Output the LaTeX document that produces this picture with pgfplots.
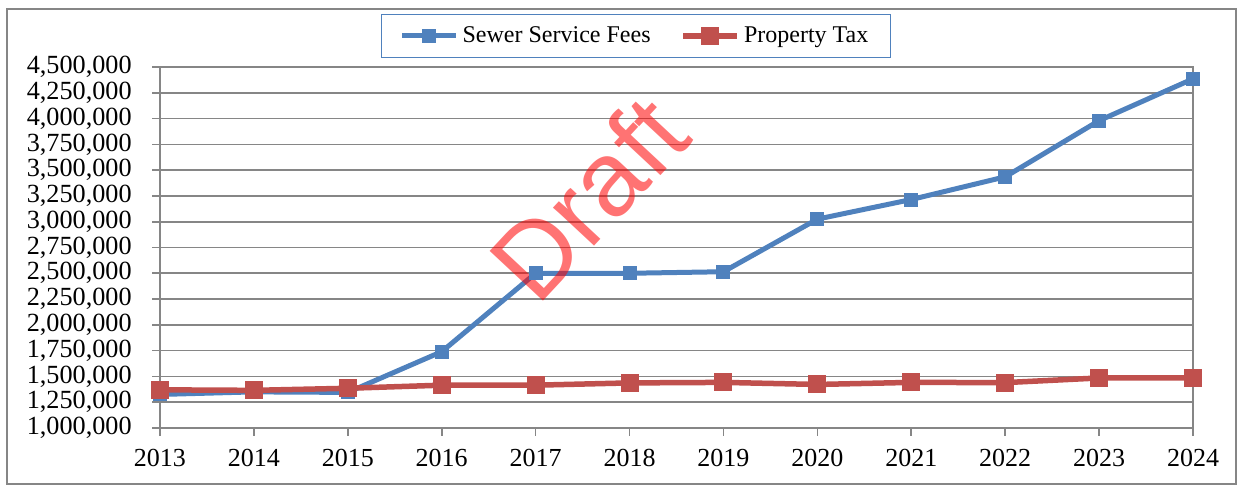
\documentclass[border=0pt]{standalone}
\usepackage{fontspec}
\setmainfont{Liberation Serif}
\newfontfamily\wmfont{Liberation Sans}
\usepackage{pgfplots}
\pgfplotsset{compat=1.18}
\definecolor{sblue}{HTML}{4F81BD}
\definecolor{sred}{HTML}{C0504D}
\definecolor{ggray}{HTML}{868686}
\begin{document}
\begin{tikzpicture}
\begin{axis}[
  at={(0,0)}, anchor=south west,
  scale only axis, width=516.5pt, height=180.5pt,
  xmin=2013, xmax=2024, ymin=1000000, ymax=4500000,
  xtick={2013,2014,2015,2016,2017,2018,2019,2020,2021,2022,2023,2024},
  ytick={1000000,1250000,1500000,1750000,2000000,2250000,2500000,2750000,3000000,3250000,3500000,3750000,4000000,4250000,4500000},
  scaled y ticks=false,
  /pgf/number format/assume math mode=true,
  x tick label style={/pgf/number format/1000 sep={}, font=\fontsize{13}{15}\selectfont, anchor=north, inner sep=0pt, yshift=-6.5pt},
  y tick label style={/pgf/number format/.cd, fixed, precision=0, 1000 sep={,}, /tikz/.cd, font=\fontsize{13.1}{15}\selectfont, anchor=east, inner sep=0pt, xshift=-10pt},
  tick align=outside, major tick length=4pt,
  xtick pos=left, ytick pos=left,
  tick style={ggray, line width=0.8pt},
  axis line style={ggray, line width=0.8pt},
  ymajorgrids, grid style={ggray, line width=0.8pt},
  clip=false,
  legend columns=2,
  legend style={at={(axis description cs:0.4608,1.086)}, anchor=center, draw=sblue, line width=0.7pt,
    font=\fontsize{12}{14}\selectfont, inner xsep=9pt, inner ysep=4pt,
    /tikz/every even column/.append style={column sep=13pt}},
  legend image code/.code={\draw[mark repeat=2,mark phase=2] plot coordinates {(0pt,0pt) (13.5pt,0pt) (27pt,0pt)};},
]
\addplot[sblue, line width=2.5pt, mark=square*, mark size=3.25pt, mark options={line width=0pt, fill=sblue}] coordinates {
(2013,1325000) (2014,1350000) (2015,1345000) (2016,1740000) (2017,2500000) (2018,2500000)
(2019,2515000) (2020,3025000) (2021,3215000) (2022,3435000) (2023,3980000) (2024,4385000)};
\addlegendentry{Sewer Service Fees}
\addplot[sred, line width=2.75pt, mark=square*, mark size=4.25pt, mark options={line width=0pt, fill=sred}] coordinates {
(2013,1370000) (2014,1365000) (2015,1385000) (2016,1415000) (2017,1415000) (2018,1437000)
(2019,1442000) (2020,1422000) (2021,1442000) (2022,1440000) (2023,1485000) (2024,1485000)};
\addlegendentry{Property Tax}
\node[rotate=47, text=red, opacity=0.55, font=\wmfont\fontsize{53}{53}\selectfont] at (axis cs:2017.56,3230000) {Draft};
\end{axis}
\draw[ggray, line width=0.8pt] (-76.5pt,-28pt) rectangle (538pt,209.5pt);
\pgfresetboundingbox
\useasboundingbox (-80pt,-28.5pt) rectangle (539pt,214pt);
\end{tikzpicture}
\end{document}
